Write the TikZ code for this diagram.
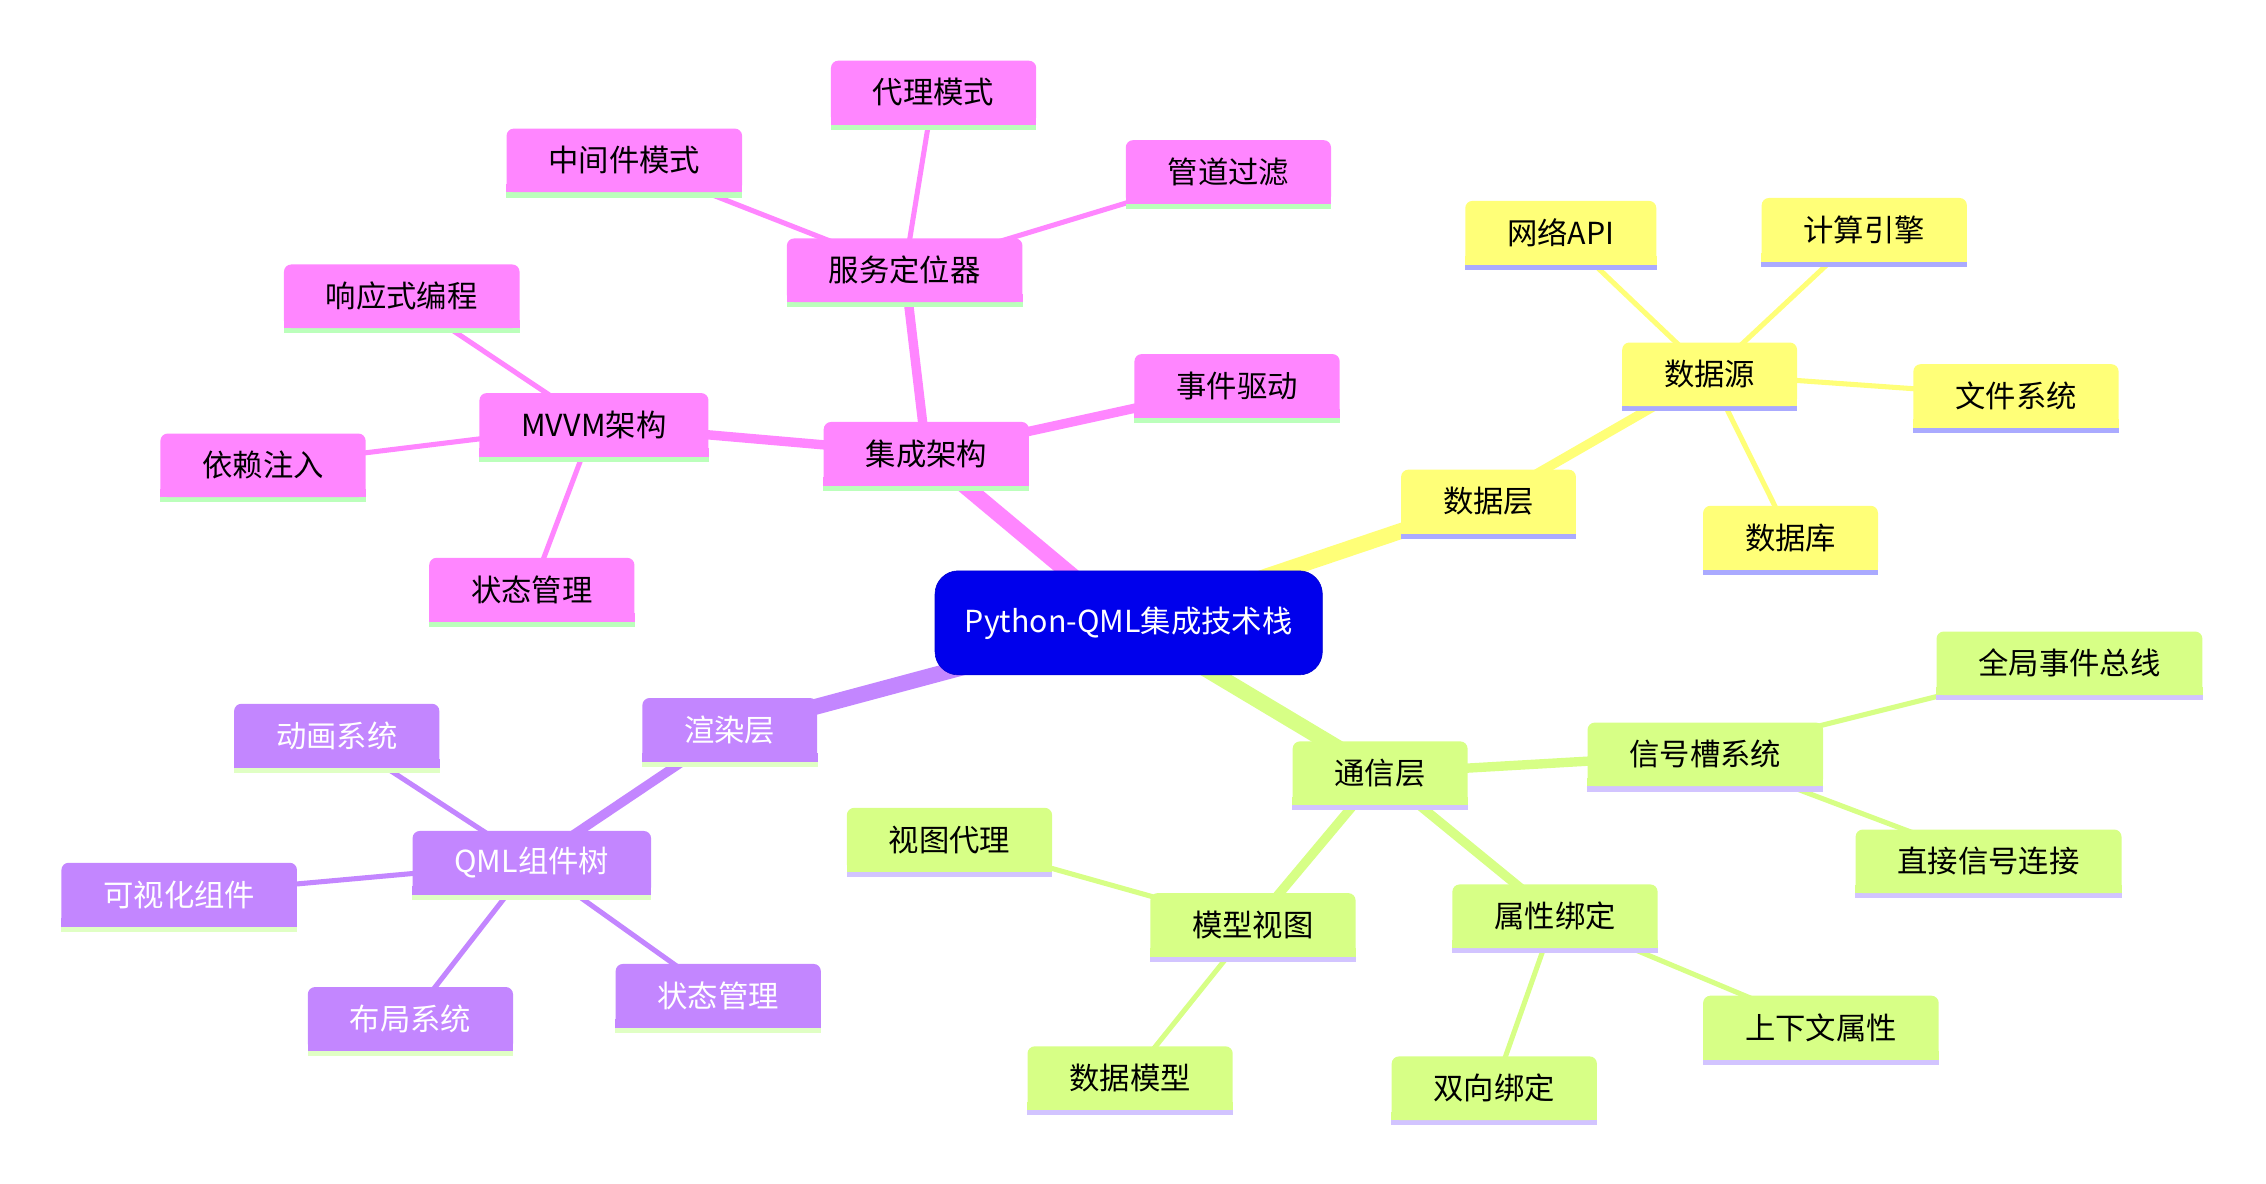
\documentclass[tikz,border=0pt]{standalone}
\usepackage{fontspec}
\setmainfont{Noto Sans CJK SC}
\usepackage{tikz}
\usetikzlibrary{backgrounds}
\definecolor{rootblue}{HTML}{0000EC}
\definecolor{mmpink}{HTML}{FF86FF}
\definecolor{mmyellow}{HTML}{FFFF78}
\definecolor{mmgreen}{HTML}{D7FF86}
\definecolor{mmpurple}{HTML}{C386FF}
\definecolor{ulpink}{HTML}{BBFFBB}
\definecolor{ulyellow}{HTML}{AAAAFF}
\definecolor{ulgreen}{HTML}{D2C4FF}
\definecolor{ulpurple}{HTML}{E0FFC4}
\newcommand{\mmfont}{\fontsize{21pt}{25pt}\selectfont}

\begin{document}
\begin{tikzpicture}[
  x=1pt, y=-1pt,
  mmnode/.style 2 args={
    fill=#1, minimum height=44pt, inner xsep=29pt, inner ysep=0pt,
    rounded corners=5pt, font=\mmfont,
    append after command={\pgfextra{
      \fill[#1, sharp corners] ([yshift=6pt]\tikzlastnode.south west) rectangle (\tikzlastnode.south east);
      \fill[#2, sharp corners] (\tikzlastnode.south west) rectangle ([yshift=-3.5pt]\tikzlastnode.south east);}}
  },
  pinkbox/.style={mmnode={mmpink}{ulpink}, text=black},
  yellowbox/.style={mmnode={mmyellow}{ulyellow}, text=black},
  greenbox/.style={mmnode={mmgreen}{ulgreen}, text=black},
  purplebox/.style={mmnode={mmpurple}{ulpurple}, text=white},
  rootbox/.style={fill=rootblue, draw=blue!80!black, rounded corners=16pt,
    minimum width=268pt, minimum height=72pt, font=\mmfont, text=white},
  depthone/.style={line width=11pt, #1},
  depthtwo/.style={line width=6.5pt, #1},
  depththree/.style={line width=3.5pt, #1}
]
\useasboundingbox (0,0) rectangle (1568,819);

\node[rootbox] (root) at (781,431) {Python-QML集成技术栈};

% 集成架构
\node[pinkbox] (integ) at (641,314) {集成架构};
\node[pinkbox] (event) at (856,267) {事件驱动};
\node[pinkbox] (mvvm) at (411,294) {MVVM架构};
\node[pinkbox] (inject) at (182,322) {依赖注入};
\node[pinkbox] (reactive) at (278,205) {响应式编程};
\node[pinkbox] (statemgmt) at (368,408) {状态管理};
\node[pinkbox] (locator) at (626,187) {服务定位器};
\node[pinkbox] (middleware) at (432,111) {中间件模式};
\node[pinkbox] (proxy) at (646,64) {代理模式};
\node[pinkbox] (pipeline) at (850,119) {管道过滤};

% 数据层
\node[yellowbox] (datalayer) at (1030,347) {数据层};
\node[yellowbox] (datasrc) at (1183,259) {数据源};
\node[yellowbox] (netapi) at (1080,161) {网络API};
\node[yellowbox] (compute) at (1290,159) {计算引擎};
\node[yellowbox] (filesys) at (1395,274) {文件系统};
\node[yellowbox] (database) at (1239,372) {数据库};

% 通信层
\node[greenbox] (comm) at (955,535) {通信层};
\node[greenbox] (signal) at (1180,522) {信号槽系统};
\node[greenbox] (globalbus) at (1432,459) {全局事件总线};
\node[greenbox] (direct) at (1376,596) {直接信号连接};
\node[greenbox] (binding) at (1076,634) {属性绑定};
\node[greenbox] (context) at (1260,711) {上下文属性};
\node[greenbox] (twoway) at (1034,753) {双向绑定};
\node[greenbox] (modelview) at (867,640) {模型视图};
\node[greenbox] (delegate) at (657,581) {视图代理};
\node[greenbox] (datamodel) at (782,746) {数据模型};

% 渲染层
\node[purplebox] (render) at (505,505) {渲染层};
\node[purplebox] (qmltree) at (368,597) {QML组件树};
\node[purplebox] (anim) at (233,509) {动画系统};
\node[purplebox] (visual) at (124,619) {可视化组件};
\node[purplebox] (layout) at (284,705) {布局系统};
\node[purplebox] (qmlstate) at (497,689) {状态管理};

\begin{pgfonlayer}{background}
\draw[depthone=mmpink] (root.center) -- (integ.center);
\draw[depthone=mmyellow] (root.center) -- (datalayer.center);
\draw[depthone=mmgreen] (root.center) -- (comm.center);
\draw[depthone=mmpurple] (root.center) -- (render.center);

\draw[depthtwo=mmpink] (integ.center) -- (event.center);
\draw[depthtwo=mmpink] (integ.center) -- (mvvm.center);
\draw[depthtwo=mmpink] (integ.center) -- (locator.center);
\draw[depththree=mmpink] (mvvm.center) -- (reactive.center);
\draw[depththree=mmpink] (mvvm.center) -- (inject.center);
\draw[depththree=mmpink] (mvvm.center) -- (statemgmt.center);
\draw[depththree=mmpink] (locator.center) -- (middleware.center);
\draw[depththree=mmpink] (locator.center) -- (proxy.center);
\draw[depththree=mmpink] (locator.center) -- (pipeline.center);

\draw[depthtwo=mmyellow] (datalayer.center) -- (datasrc.center);
\draw[depththree=mmyellow] (datasrc.center) -- (netapi.center);
\draw[depththree=mmyellow] (datasrc.center) -- (compute.center);
\draw[depththree=mmyellow] (datasrc.center) -- (filesys.center);
\draw[depththree=mmyellow] (datasrc.center) -- (database.center);

\draw[depthtwo=mmgreen] (comm.center) -- (signal.center);
\draw[depthtwo=mmgreen] (comm.center) -- (binding.center);
\draw[depthtwo=mmgreen] (comm.center) -- (modelview.center);
\draw[depththree=mmgreen] (signal.center) -- (globalbus.center);
\draw[depththree=mmgreen] (signal.center) -- (direct.center);
\draw[depththree=mmgreen] (binding.center) -- (context.center);
\draw[depththree=mmgreen] (binding.center) -- (twoway.center);
\draw[depththree=mmgreen] (modelview.center) -- (delegate.center);
\draw[depththree=mmgreen] (modelview.center) -- (datamodel.center);

\draw[depthtwo=mmpurple] (render.center) -- (qmltree.center);
\draw[depththree=mmpurple] (qmltree.center) -- (anim.center);
\draw[depththree=mmpurple] (qmltree.center) -- (visual.center);
\draw[depththree=mmpurple] (qmltree.center) -- (layout.center);
\draw[depththree=mmpurple] (qmltree.center) -- (qmlstate.center);
\end{pgfonlayer}

\end{tikzpicture}
\end{document}
